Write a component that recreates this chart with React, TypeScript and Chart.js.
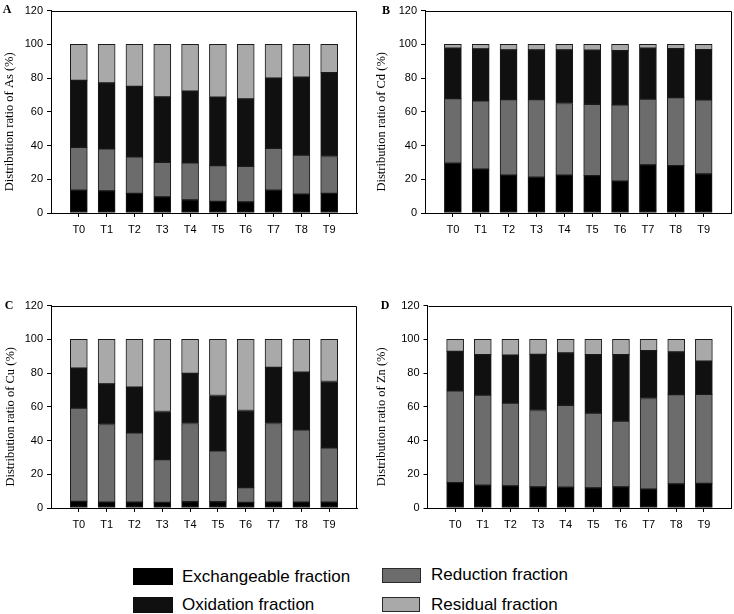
import React, { useEffect, useRef } from 'react';
import { Chart, registerables } from 'chart.js';

Chart.register(...registerables);

// ---------- data ----------
const categories = ['T0', 'T1', 'T2', 'T3', 'T4', 'T5', 'T6', 'T7', 'T8', 'T9'];
const yTickStep = 20;
const yMax = 120;

const fractionNames = ['Exchangeable fraction', 'Reduction fraction', 'Oxidation fraction', 'Residual fraction'];
const fractionColors = ['#000000', '#6c6c6c', '#101010', '#a9a9a9'];

// As
const asExchangeable = [13.5, 13.1, 11.6, 9.6, 7.7, 6.9, 6.6, 13.5, 11.2, 11.6];
const asReduction = [25.4, 24.9, 21.7, 20.5, 22.0, 21.2, 21.0, 24.8, 23.1, 21.9];
const asOxidation = [39.7, 39.1, 41.8, 38.7, 42.6, 40.5, 40.0, 41.7, 46.2, 49.7];
const asResidual = [21.4, 22.9, 24.9, 31.2, 27.7, 31.4, 32.4, 20.0, 19.5, 16.8];

// Cd
const cdExchangeable = [29.5, 26.0, 22.5, 21.2, 22.5, 22.2, 18.9, 28.5, 28.1, 23.1];
const cdReduction = [38.3, 40.5, 44.7, 46.0, 42.4, 42.3, 45.3, 39.1, 40.3, 44.0];
const cdOxidation = [29.9, 30.8, 29.5, 29.5, 31.8, 32.0, 32.1, 30.1, 29.1, 29.8];
const cdResidual = [2.3, 2.7, 3.3, 3.3, 3.3, 3.5, 3.7, 2.3, 2.5, 3.1];

// Cu
const cuExchangeable = [3.9, 3.5, 3.5, 3.3, 3.7, 3.7, 3.3, 3.5, 3.5, 3.5];
const cuReduction = [55.3, 46.0, 41.0, 25.4, 46.4, 30.2, 8.8, 46.6, 42.9, 32.1];
const cuOxidation = [23.7, 24.1, 27.2, 28.5, 29.7, 32.8, 45.7, 33.3, 34.1, 39.4];
const cuResidual = [17.1, 26.4, 28.3, 42.8, 20.2, 33.3, 42.2, 16.6, 19.5, 25.0];

// Zn
const znExchangeable = [15.0, 13.5, 13.1, 12.5, 12.3, 11.9, 12.5, 11.2, 14.3, 14.6];
const znReduction = [54.4, 53.4, 49.1, 45.3, 48.6, 44.4, 39.1, 53.7, 52.9, 52.8];
const znOxidation = [23.5, 24.0, 28.4, 33.3, 31.0, 34.6, 39.3, 28.4, 25.3, 19.7];
const znResidual = [7.1, 9.1, 9.4, 8.9, 8.1, 9.1, 9.1, 6.7, 7.5, 12.9];

// ---------- layout ----------
const SANS = '"Liberation Sans", Arial, Helvetica, sans-serif';
const SERIF = '"Liberation Serif", "Times New Roman", Times, serif';

type PanelSpec = {
  letter: string;
  metal: string;
  series: number[][];
  left: number;
  top: number;
  width: number;
  height: number;
  plotLeft: number;
  plotRight: number;
  plotTop: number;
  plotBottom: number;
  titleX: number;
  letterX: number;
  letterY: number;
};

const panels: PanelSpec[] = [
  {
    letter: 'A', metal: 'As',
    series: [asExchangeable, asReduction, asOxidation, asResidual],
    left: 0, top: 0, width: 370, height: 245,
    plotLeft: 51, plotRight: 357, plotTop: 5, plotBottom: 213,
    titleX: 10, letterX: 7, letterY: 8.5,
  },
  {
    letter: 'B', metal: 'Cd',
    series: [cdExchangeable, cdReduction, cdOxidation, cdResidual],
    left: 370, top: 0, width: 364, height: 245,
    plotLeft: 425, plotRight: 731.5, plotTop: 5, plotBottom: 213,
    titleX: 12, letterX: 386, letterY: 10,
  },
  {
    letter: 'C', metal: 'Cu',
    series: [cuExchangeable, cuReduction, cuOxidation, cuResidual],
    left: 0, top: 295, width: 370, height: 245,
    plotLeft: 51, plotRight: 357, plotTop: 300, plotBottom: 508,
    titleX: 10.5, letterX: 9, letterY: 305,
  },
  {
    letter: 'D', metal: 'Zn',
    series: [znExchangeable, znReduction, znOxidation, znResidual],
    left: 370, top: 295, width: 364, height: 245,
    plotLeft: 427.5, plotRight: 731.5, plotTop: 300, plotBottom: 508,
    titleX: 12, letterX: 385, letterY: 305,
  },
];

const legendLayout = [
  { idx: 0, boxLeft: 133, boxTop: 568, boxW: 40, boxH: 17, textLeft: 182, textCenter: 576.5, border: false },
  { idx: 1, boxLeft: 382, boxTop: 568, boxW: 39, boxH: 15, textLeft: 431, textCenter: 575, border: true },
  { idx: 2, boxLeft: 133, boxTop: 597, boxW: 40, boxH: 16, textLeft: 182, textCenter: 604.5, border: false },
  { idx: 3, boxLeft: 382, boxTop: 597, boxW: 38, boxH: 15, textLeft: 431, textCenter: 605, border: true },
];

function Panel({ p }: { p: PanelSpec }) {
  const ref = useRef<HTMLCanvasElement>(null);

  useEffect(() => {
    if (!ref.current) return;
    const framePlugin = {
      id: 'frameAndTitle',
      afterDraw(chart: any) {
        const { ctx, chartArea: a } = chart;
        ctx.save();
        ctx.strokeStyle = '#000';
        ctx.lineWidth = 1;
        const l = Math.round(a.left) + 0.5;
        const t = Math.round(a.top) + 0.5;
        const r = Math.round(a.right) - 0.5;
        ctx.beginPath();
        ctx.moveTo(l, t);
        ctx.lineTo(r, t);
        ctx.lineTo(r, a.bottom);
        ctx.stroke();
        ctx.fillStyle = '#000';
        ctx.font = `12.5px ${SERIF}`;
        ctx.textAlign = 'center';
        ctx.textBaseline = 'middle';
        ctx.translate(p.titleX, (a.top + a.bottom) / 2 + 10);
        ctx.rotate(-Math.PI / 2);
        ctx.fillText(`Distribution ratio of ${p.metal} (%)`, 0, 0);
        ctx.restore();
      },
    };

    const chart = new Chart(ref.current, {
      type: 'bar',
      data: {
        labels: categories.map((_, i) => i),
        datasets: p.series.map((vals, k) => ({
          label: fractionNames[k],
          data: vals,
          backgroundColor: fractionColors[k],
          borderColor: '#1a1a1a',
          borderWidth: 1,
          borderSkipped: false,
          barThickness: 17,
        })),
      },
      options: {
        animation: false,
        responsive: false,
        devicePixelRatio: 1,
        layout: {
          padding: {
            top: p.plotTop - p.top,
            right: p.left + p.width - p.plotRight,
            left: 0,
            bottom: 0,
          },
        },
        plugins: {
          legend: { display: false },
          tooltip: { enabled: false },
        },
        scales: {
          x: {
            type: 'linear',
            stacked: true,
            offset: false,
            min: -1,
            max: categories.length,
            afterBuildTicks: (s: any) => {
              s.ticks = categories.map((_, i) => ({ value: i }));
            },
            ticks: {
              autoSkip: false,
              maxRotation: 0,
              color: '#000',
              font: { family: SANS, size: 11 },
              padding: 6,
              callback: (v: any) => categories[v] ?? '',
            },
            grid: { display: true, offset: false, drawOnChartArea: false, drawTicks: true, tickLength: 4, color: '#000' },
            border: { display: true, color: '#000', width: 1 },
            afterFit: (s: any) => {
              s.height = p.top + p.height - p.plotBottom;
            },
          },
          y: {
            stacked: true,
            min: 0,
            max: yMax,
            ticks: {
              stepSize: yTickStep,
              color: '#000',
              font: { family: SANS, size: 11 },
              padding: 4,
            },
            grid: { display: true, drawOnChartArea: false, drawTicks: true, tickLength: 4, color: '#000' },
            border: { display: true, color: '#000', width: 1 },
            afterFit: (s: any) => {
              s.width = p.plotLeft - p.left;
            },
          },
        },
      },
      plugins: [framePlugin],
    } as any);

    return () => chart.destroy();
  }, [p]);

  return (
    <>
      <canvas
        ref={ref}
        width={p.width}
        height={p.height}
        style={{ position: 'absolute', left: p.left, top: p.top, width: p.width, height: p.height }}
      />
      <div
        style={{
          position: 'absolute',
          left: p.letterX - 10,
          top: p.letterY - 8,
          width: 20,
          height: 16,
          lineHeight: '16px',
          textAlign: 'center',
          fontFamily: SERIF,
          fontSize: 12,
          fontWeight: 'bold',
          color: '#000',
        }}
      >
        {p.letter}
      </div>
    </>
  );
}

export default function App() {
  return (
    <div
      style={{
        position: 'fixed',
        left: 0,
        top: 0,
        width: 734,
        height: 614,
        background: '#fff',
        overflow: 'hidden',
      }}
    >
      {panels.map((p) => (
        <Panel key={p.letter} p={p} />
      ))}
      {legendLayout.map((it) => (
        <React.Fragment key={it.idx}>
          <div
            style={{
              position: 'absolute',
              left: it.boxLeft,
              top: it.boxTop,
              width: it.boxW,
              height: it.boxH,
              boxSizing: 'border-box',
              background: fractionColors[it.idx],
              border: it.border ? '1px solid #2a2a2a' : 'none',
            }}
          />
          <div
            style={{
              position: 'absolute',
              left: it.textLeft,
              top: it.textCenter - 10,
              height: 20,
              lineHeight: '20px',
              fontFamily: SANS,
              fontSize: 17,
              color: '#000',
              whiteSpace: 'nowrap',
            }}
          >
            {fractionNames[it.idx]}
          </div>
        </React.Fragment>
      ))}
    </div>
  );
}
